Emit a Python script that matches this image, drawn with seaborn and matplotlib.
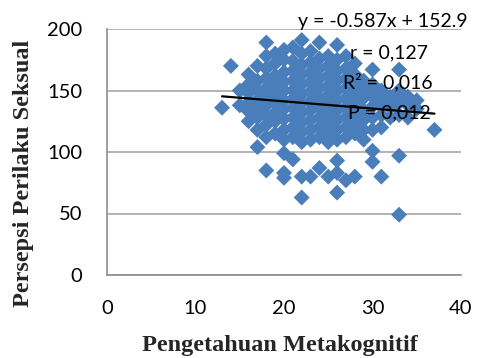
import matplotlib
matplotlib.use("Agg")
import matplotlib.pyplot as plt
import seaborn as sns
import numpy as np
import pandas as pd

# Data (x = Pengetahuan Metakognitif, y = Persepsi Perilaku Seksual)
x_vals = (
    [13, 14, 15, 15]
    + [16] * 6
    + [17] * 8
    + [18] * 11
    + [19] * 9
    + [20] * 13
    + [21] * 11
    + [22] * 13
    + [23] * 11
    + [24] * 11
    + [25] * 11
    + [26] * 13
    + [27] * 10
    + [28] * 9
    + [29] * 7
    + [30] * 8
    + [31] * 5
    + [32] * 3
    + [33] * 6
    + [34] * 3
    + [35] * 2
    + [37]
)
y_vals = (
    [136, 170, 138, 150]
    + [125, 133, 140, 148, 155, 163]
    + [104, 118, 128, 135, 142, 150, 158, 170]
    + [85, 112, 122, 130, 138, 145, 152, 160, 168, 178, 189]
    + [115, 125, 132, 140, 147, 155, 162, 172, 180]
    + [79, 83, 99, 110, 118, 127, 135, 142, 150, 157, 165, 175, 183]
    + [94, 112, 120, 128, 136, 143, 150, 158, 166, 174, 185]
    + [63, 80, 108, 116, 124, 132, 140, 147, 155, 163, 171, 180, 191]
    + [80, 110, 118, 126, 134, 141, 149, 157, 165, 173, 182]
    + [87, 112, 120, 128, 136, 144, 152, 160, 168, 176, 189]
    + [80, 108, 115, 123, 131, 139, 146, 154, 162, 170, 178]
    + [67, 83, 93, 110, 118, 126, 134, 142, 150, 158, 166, 175, 187]
    + [77, 112, 120, 128, 136, 144, 152, 160, 168, 178]
    + [80, 115, 123, 131, 139, 147, 155, 163, 172]
    + [110, 118, 126, 134, 144, 150, 158]
    + [92, 101, 118, 128, 137, 145, 155, 167]
    + [80, 120, 130, 140, 150]
    + [128, 136, 145]
    + [49, 97, 130, 140, 150, 167]
    + [128, 138, 145]
    + [135, 142]
    + [118]
)

slope = -0.587
intercept = 152.9
trend_x = [13, 37]

x_ticks = [0, 10, 20, 30, 40]
y_ticks = [0, 50, 100, 150, 200]
annotations = ["y = -0.587x + 152.9", "r = 0,127", "R\u00b2 = 0,016", "P = 0,012"]
x_label = "Pengetahuan Metakognitif"
y_label = "Persepsi Perilaku Seksual"

df = pd.DataFrame({"x": x_vals, "y": y_vals})
trend_df = pd.DataFrame({"x": trend_x, "y": [slope * v + intercept for v in trend_x]})

sns.set_style("white")
plt.rcParams["font.family"] = ["Lato", "DejaVu Sans"]

W, H = 494, 358
fig = plt.figure(figsize=(W / 100, H / 100), dpi=100)
ax = fig.add_axes([107 / W, 1 - 275 / H, (461 - 107) / W, (275 - 29) / H])

sns.scatterplot(data=df, x="x", y="y", marker="D", s=66, color="#4A7EBB",
                edgecolor="none", linewidth=0, ax=ax, zorder=3)
sns.lineplot(data=trend_df, x="x", y="y", color="black", linewidth=1.6, ax=ax, zorder=4)

ax.set_xlim(0, 40)
ax.set_ylim(0, 200)
ax.set_xticks(x_ticks)
ax.set_yticks(y_ticks)
ax.yaxis.grid(True, color="#A6A6A6", linewidth=1.2, zorder=0)
ax.xaxis.grid(False)
ax.set_axisbelow(True)
for side in ["top", "right"]:
    ax.spines[side].set_visible(False)
for side in ["left", "bottom"]:
    ax.spines[side].set_color("#8C8C8C")
    ax.spines[side].set_linewidth(1.2)
ax.tick_params(axis="both", direction="out", length=6, width=1.2, color="#8C8C8C",
               labelsize=14.5, labelcolor="black")
ax.tick_params(axis="x", pad=12)
ax.tick_params(axis="y", pad=12)

ax.set_xlabel("")
ax.set_ylabel("")
fig.text(280 / W, 1 - 345 / H, x_label, ha="center", va="center",
         family="Liberation Serif", fontweight="bold", fontsize=17.5)
fig.text(24 / W, 1 - 173 / H, y_label, ha="center", va="center", rotation=90,
         family="Liberation Serif", fontweight="bold", fontsize=17.5)

pos = [(298, 22), (350, 53), (343, 82), (348, 113)]
for (px, py), t in zip(pos, annotations):
    fig.text(px / W, 1 - py / H, t, ha="left", va="center", fontsize=14, color="black")

fig.savefig("out.png", dpi=100)
